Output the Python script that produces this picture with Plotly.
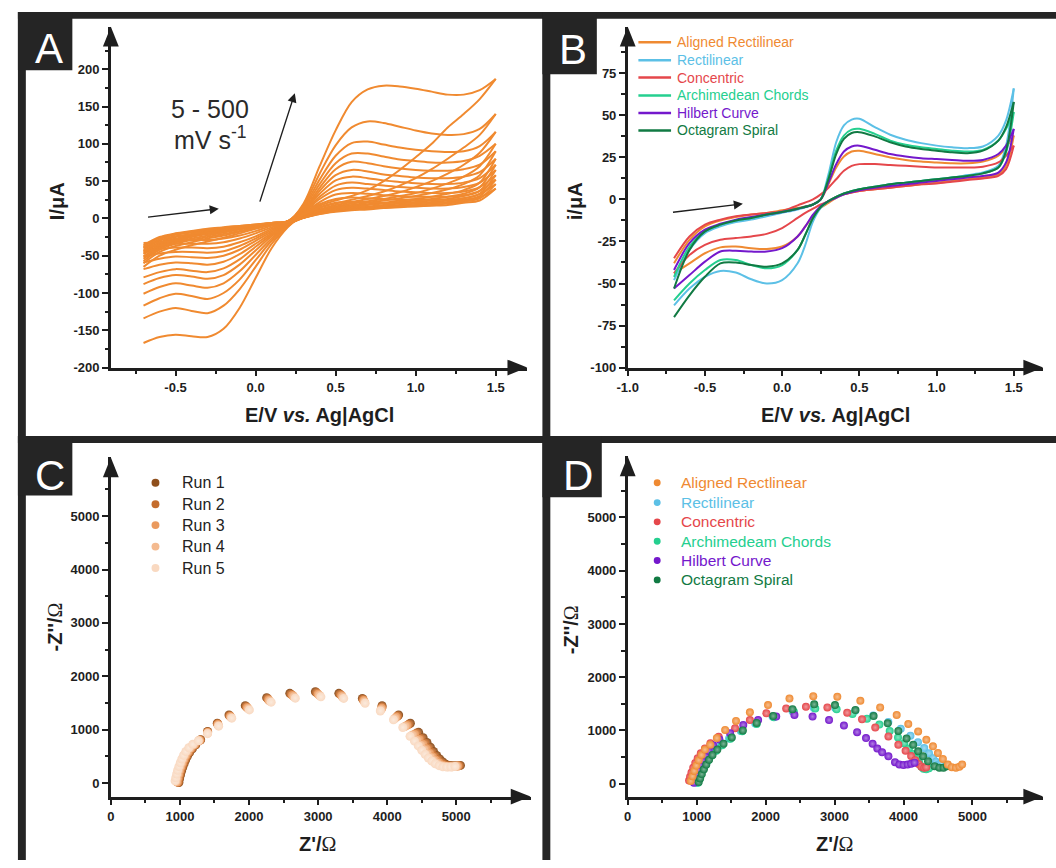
import plotly.graph_objects as go

W, H = 1056, 868
FONT = 'Liberation Sans, Arial, Helvetica, sans-serif'
INK = '#1e1e1e'
FRAME = '#252525'


def px(x):
    return x / W


def py(y):
    return 1 - y / H


# ---------------- panel A : CV, 5 - 500 mV/s ----------------
E_A_FWD = [-0.7, -0.6, -0.5, -0.4, -0.3, -0.2, -0.1, 0.0, 0.1, 0.2, 0.3, 0.4,
           0.5, 0.6, 0.7, 0.8, 0.9, 1.0, 1.1, 1.2, 1.3, 1.4, 1.5]
E_A_REV = E_A_FWD[::-1]

a01_fwd = [-65, -50, -42, -36, -31, -26, -20, -14, -9, -5, 20, 70, 118, 156, 173, 178, 177, 174, 170, 166, 166, 172, 187]
a01_rev = [187, 160, 140, 122, 100, 82, 65, 50, 38, 30, 24, 17, 6, -12, -40, -80, -120, -148, -159, -158, -156, -159, -167]
a02_fwd = [-60, -45, -37, -32, -27, -23, -18, -13, -8, -4, 18, 60, 98, 122, 130, 128, 123, 118, 114, 112, 113, 120, 140]
a02_rev = [140, 112, 95, 80, 66, 54, 44, 36, 30, 25, 20, 14, 4, -11, -34, -65, -95, -117, -127, -124, -120, -125, -134]
a03_fwd = [-57, -42, -34, -29, -25, -21, -17, -12, -8, -4, 16, 52, 84, 101, 103, 99, 95, 92, 90, 89, 90, 97, 116]
a03_rev = [116, 88, 72, 60, 50, 42, 35, 30, 26, 22, 18, 12, 3, -10, -30, -56, -82, -100, -108, -104, -101, -107, -117]
a04_fwd = [-54, -40, -32, -27, -23, -19, -15, -11, -7, -4, 14, 46, 74, 87, 87, 83, 79, 77, 75, 75, 77, 84, 100]
a04_rev = [100, 70, 56, 47, 40, 34, 30, 26, 23, 20, 16, 11, 2, -9, -27, -49, -71, -87, -93, -90, -87, -92, -101]
a05_fwd = [-51, -38, -30, -25, -21, -18, -14, -10, -7, -4, 12, 41, 66, 76, 74, 70, 67, 65, 64, 64, 66, 72, 90]
a05_rev = [90, 58, 46, 39, 34, 30, 27, 24, 21, 18, 15, 10, 2, -8, -24, -43, -62, -76, -81, -78, -76, -80, -88]
a06_fwd = [-48, -36, -28, -24, -20, -17, -13, -10, -7, -4, 11, 37, 58, 65, 63, 59, 57, 55, 54, 54, 56, 62, 80]
a06_rev = [80, 48, 38, 33, 29, 26, 24, 21, 19, 17, 14, 9, 1, -8, -22, -38, -55, -67, -72, -70, -68, -72, -79]
a07_fwd = [-46, -34, -27, -23, -19, -16, -13, -10, -7, -4, 10, 33, 51, 56, 54, 51, 49, 47, 46, 46, 48, 54, 72]
a07_rev = [72, 42, 33, 29, 26, 24, 22, 20, 18, 16, 13, 8, 1, -7, -20, -34, -48, -58, -62, -60, -59, -62, -68]
a08_fwd = [-44, -32, -25, -22, -18, -15, -12, -9, -7, -4, 9, 29, 44, 48, 46, 44, 42, 41, 40, 40, 42, 48, 65]
a08_rev = [65, 37, 30, 26, 24, 22, 20, 18, 16, 15, 12, 8, 1, -7, -18, -30, -42, -50, -53, -52, -51, -54, -59]
a09_fwd = [-42, -30, -24, -21, -17, -14, -12, -9, -6, -4, 8, 26, 38, 41, 40, 38, 36, 35, 34, 34, 36, 42, 58]
a09_rev = [58, 33, 27, 24, 22, 20, 18, 17, 15, 14, 11, 7, 1, -6, -16, -27, -37, -44, -46, -45, -45, -47, -51]
a10_fwd = [-40, -28, -22, -19, -16, -13, -11, -9, -6, -4, 7, 22, 32, 34, 33, 31, 30, 29, 29, 29, 31, 37, 52]
a10_rev = [52, 30, 25, 22, 20, 18, 17, 16, 14, 13, 10, 7, 1, -6, -14, -24, -32, -38, -40, -39, -39, -41, -44]
a11_fwd = [-38, -26, -21, -18, -15, -12, -10, -8, -6, -4, 6, 19, 26, 28, 27, 26, 25, 25, 25, 25, 27, 33, 46]
a11_rev = [46, 27, 23, 20, 18, 17, 16, 15, 13, 12, 10, 6, 1, -5, -12, -20, -27, -32, -34, -34, -34, -36, -38]
a12_fwd = [-36, -25, -20, -17, -14, -12, -10, -8, -6, -4, 5, 15, 21, 22, 22, 21, 21, 21, 21, 21, 23, 28, 40]
a12_rev = [40, 24, 21, 18, 17, 16, 15, 14, 12, 11, 9, 6, 1, -5, -10, -17, -23, -27, -29, -29, -30, -32, -33]

A_CURVES = [(a01_fwd, a01_rev), (a02_fwd, a02_rev), (a03_fwd, a03_rev), (a04_fwd, a04_rev),
            (a05_fwd, a05_rev), (a06_fwd, a06_rev), (a07_fwd, a07_rev), (a08_fwd, a08_rev),
            (a09_fwd, a09_rev), (a10_fwd, a10_rev), (a11_fwd, a11_rev), (a12_fwd, a12_rev)]

# ---------------- panel B : CV per geometry ----------------
E_B_FWD = [-0.7, -0.6, -0.5, -0.4, -0.3, -0.2, -0.1, 0.0, 0.1, 0.2, 0.25, 0.3, 0.35, 0.4,
           0.45, 0.5, 0.6, 0.7, 0.8, 0.9, 1.0, 1.1, 1.2, 1.3, 1.4, 1.45, 1.5]
E_B_REV = [1.5, 1.45, 1.4, 1.3, 1.2, 1.1, 1.0, 0.9, 0.8, 0.7, 0.6, 0.5, 0.4, 0.35, 0.3,
           0.25, 0.2, 0.15, 0.1, 0.0, -0.1, -0.2, -0.3, -0.4, -0.5, -0.6, -0.7]

B_NAMES = ['Aligned Rectilinear', 'Rectilinear', 'Concentric', 'Archimedean Chords',
           'Hilbert Curve', 'Octagram Spiral']
D_NAMES = ['Aligned Rectlinear', 'Rectilinear', 'Concentric', 'Archimedeam Chords',
           'Hilbert Curve', 'Octagram Spiral']
GEOM_COLORS = ['#ef8a32', '#5cc0e6', '#e5474b', '#25cf8f', '#7418cc', '#117a43']

b_aligned_fwd = [-38, -24, -16, -12.5, -10.5, -9, -8, -6.5, -5, -3, 0, 9, 19, 25.5, 28.5, 29, 27, 25, 23.5, 22.5, 22, 21.5, 21.5, 22.5, 26, 31, 38]
b_aligned_rev = [38, 20, 15, 13, 12, 11, 10, 9, 8, 7, 6, 5, 3, 1, -2, -5, -10, -16, -22, -28, -29.5, -29, -28, -28.5, -32, -38, -44]
b_rect_fwd = [-48, -30, -20, -16, -13.5, -12, -10, -8, -6, -3, 0, 15, 34, 44, 47.5, 48, 43, 38.5, 35.5, 33.5, 32, 31, 30.5, 31.5, 38, 47, 66]
b_rect_rev = [66, 32, 20, 16, 14.5, 13, 12, 11, 10, 9, 7.5, 6, 3.5, 1.5, -1, -5, -13, -27, -38, -48, -50, -47.5, -43.5, -42.5, -46, -53, -63]
b_conc_fwd = [-35, -22, -15, -12, -10, -9, -8, -7, -3.5, 0, 3, 7, 12, 17, 20, 21, 21, 20.5, 20, 19.5, 19, 19, 19, 19.5, 22, 26, 32]
b_conc_rev = [32, 18, 14, 12.5, 11.5, 10.5, 9.5, 9, 8, 7, 6, 5, 3, 1.5, -1, -3, -5.5, -8, -11, -17, -20.5, -22, -23, -24, -27, -33, -44]
b_arch_fwd = [-46, -28, -19, -15, -12.5, -11, -9, -7.5, -5.5, -3, 0, 13, 29, 38, 41.5, 42, 39, 35, 32.5, 31, 30, 29, 28.5, 29.5, 35, 42, 52]
b_arch_rev = [52, 28, 19, 15.5, 14, 13, 12, 11, 10, 9, 7.5, 6, 3.5, 1.5, -1, -4.5, -11, -21, -30, -39, -41, -39, -36, -36, -42, -50, -60]
b_hilb_fwd = [-42, -26, -18, -14.5, -12, -10.5, -9, -7.5, -5.5, -3, 0, 10, 21, 28.5, 31.5, 32, 29.5, 27, 25.5, 24.5, 24, 23.5, 23, 23.5, 27, 32, 42]
b_hilb_rev = [42, 22, 16, 14, 13, 12, 11, 10, 9, 8, 7, 5.5, 3, 1, -1, -4, -9, -16, -22, -29, -31, -31, -30.5, -31, -37, -45, -53]
b_octa_fwd = [-53, -30, -19, -15, -12.5, -11, -9, -7.5, -5.5, -3, 0, 12, 27, 36, 39.5, 40, 37.5, 34, 31.5, 30, 29, 28, 27.5, 29, 35, 43, 58]
b_octa_rev = [58, 29, 19, 15.5, 14, 13, 12, 11, 10, 9, 7.5, 6, 3.5, 1.5, -1, -4.5, -11, -21, -30, -38, -40, -39, -37.5, -38, -46, -57, -70]

B_CURVES = [(b_aligned_fwd, b_aligned_rev), (b_rect_fwd, b_rect_rev), (b_conc_fwd, b_conc_rev),
            (b_arch_fwd, b_arch_rev), (b_hilb_fwd, b_hilb_rev), (b_octa_fwd, b_octa_rev)]

# ---------------- panel C : Nyquist, repeat runs ----------------
RUN_NAMES = ['Run 1', 'Run 2', 'Run 3', 'Run 4', 'Run 5']
RUN_COLORS = ['#8f4f1c', '#c46c2c', '#ea9a5e', '#f4ba8f', '#f9d9c1']

run1_re = [985, 995, 1008, 1022, 1040, 1060, 1082, 1108, 1140, 1180, 1230, 1300, 1400, 1540, 1710, 1945, 2255, 2590, 2960, 3300, 3640, 3925, 4165, 4335, 4455, 4520, 4575, 4625, 4670, 4715, 4760, 4805, 4850, 4900, 4950, 5005, 5060]
run1_im = [10, 80, 150, 220, 290, 360, 430, 500, 570, 640, 715, 810, 965, 1120, 1275, 1450, 1600, 1680, 1710, 1680, 1585, 1450, 1275, 1120, 950, 850, 760, 670, 590, 515, 450, 395, 350, 330, 322, 322, 330]
run2_re = [975, 985, 998, 1012, 1030, 1050, 1072, 1098, 1130, 1170, 1222, 1295, 1400, 1545, 1720, 1960, 2270, 2610, 2980, 3320, 3650, 3925, 4150, 4310, 4425, 4490, 4545, 4595, 4640, 4685, 4730, 4775, 4825, 4875, 4925, 4980, 5040]
run2_im = [15, 85, 155, 225, 295, 365, 435, 505, 575, 645, 715, 805, 955, 1110, 1260, 1430, 1580, 1660, 1690, 1660, 1565, 1425, 1255, 1100, 935, 835, 745, 655, 575, 500, 440, 385, 345, 325, 318, 318, 325]
run3_re = [960, 970, 983, 997, 1015, 1035, 1057, 1083, 1115, 1155, 1210, 1285, 1400, 1550, 1730, 1975, 2285, 2630, 3000, 3340, 3660, 3920, 4130, 4285, 4395, 4460, 4515, 4565, 4610, 4655, 4700, 4750, 4800, 4850, 4900, 4960, 5020]
run3_im = [20, 90, 160, 230, 300, 370, 440, 510, 580, 650, 720, 800, 945, 1095, 1245, 1410, 1555, 1640, 1665, 1635, 1545, 1400, 1235, 1080, 915, 815, 725, 640, 560, 490, 430, 378, 338, 315, 310, 312, 320]
run4_re = [945, 955, 968, 982, 1000, 1020, 1042, 1068, 1100, 1142, 1198, 1275, 1400, 1555, 1740, 1990, 2300, 2650, 3020, 3355, 3670, 3910, 4110, 4255, 4360, 4425, 4480, 4530, 4578, 4625, 4672, 4722, 4775, 4828, 4880, 4940, 5000]
run4_im = [30, 95, 165, 235, 305, 375, 445, 515, 585, 655, 722, 795, 935, 1080, 1230, 1390, 1535, 1615, 1640, 1610, 1520, 1375, 1210, 1060, 895, 800, 710, 625, 548, 480, 420, 370, 330, 308, 303, 305, 315]
run5_re = [930, 940, 953, 967, 985, 1005, 1027, 1053, 1085, 1128, 1185, 1265, 1400, 1560, 1750, 2005, 2320, 2670, 3040, 3370, 3680, 3900, 4090, 4225, 4330, 4395, 4450, 4500, 4548, 4595, 4645, 4695, 4750, 4805, 4860, 4920, 4980]
run5_im = [40, 100, 170, 240, 310, 380, 450, 520, 590, 660, 725, 790, 925, 1065, 1215, 1370, 1515, 1590, 1615, 1585, 1495, 1350, 1185, 1040, 875, 785, 695, 612, 537, 470, 412, 362, 325, 303, 298, 300, 310]

RUNS = [(run1_re, run1_im), (run2_re, run2_im), (run3_re, run3_im), (run4_re, run4_im), (run5_re, run5_im)]

# ---------------- panel D : Nyquist per geometry ----------------
d_aligned_re = [915, 940, 965, 995, 1030, 1070, 1120, 1198, 1293, 1413, 1571, 1772, 2035, 2346, 2691, 3040, 3374, 3661, 3901, 4069, 4212, 4331, 4427, 4499, 4571, 4643, 4700, 4760, 4810, 4850]
d_aligned_im = [50, 140, 240, 340, 440, 540, 640, 731, 856, 1010, 1178, 1340, 1476, 1600, 1643, 1632, 1557, 1433, 1290, 1122, 981, 824, 701, 577, 465, 359, 310, 300, 320, 360]
d_rect_re = [1000, 1020, 1045, 1075, 1110, 1150, 1200, 1265, 1350, 1470, 1640, 1850, 2100, 2390, 2700, 3010, 3300, 3560, 3780, 3960, 4100, 4210, 4300, 4370, 4430, 4470, 4500, 4520, 4540, 4550]
d_rect_im = [20, 90, 170, 260, 350, 440, 530, 620, 720, 850, 990, 1130, 1260, 1360, 1420, 1420, 1370, 1280, 1160, 1030, 900, 780, 670, 570, 480, 410, 355, 330, 340, 385]
d_conc_re = [890, 905, 925, 950, 980, 1015, 1060, 1120, 1200, 1320, 1557, 1772, 2011, 2298, 2585, 2896, 3183, 3398, 3590, 3781, 3925, 4030, 4110, 4170, 4220, 4260, 4300, 4330]
d_conc_im = [60, 130, 210, 300, 390, 480, 570, 660, 760, 880, 1042, 1196, 1321, 1414, 1446, 1433, 1334, 1210, 1055, 888, 731, 620, 520, 440, 370, 320, 300, 310]
d_arch_re = [1020, 1040, 1065, 1095, 1130, 1170, 1220, 1285, 1370, 1490, 1660, 1870, 2120, 2410, 2720, 3030, 3260, 3470, 3650, 3800, 3920, 4010, 4080, 4140, 4190, 4230, 4260, 4290, 4330, 4370]
d_arch_im = [20, 90, 170, 260, 350, 440, 530, 620, 720, 845, 985, 1120, 1250, 1350, 1410, 1400, 1310, 1220, 1110, 990, 870, 760, 660, 560, 470, 390, 320, 280, 270, 290]
d_hilb_re = [960, 975, 995, 1020, 1050, 1085, 1125, 1175, 1240, 1330, 1485, 1676, 1891, 2154, 2418, 2681, 2920, 3136, 3327, 3456, 3552, 3620, 3690, 3781, 3877, 3940, 4000, 4060, 4110, 4160]
d_hilb_im = [20, 90, 170, 260, 350, 440, 530, 620, 720, 830, 949, 1103, 1196, 1260, 1290, 1260, 1196, 1092, 968, 856, 750, 660, 590, 515, 404, 360, 350, 360, 375, 395]
d_octa_re = [1030, 1050, 1075, 1105, 1140, 1180, 1230, 1300, 1390, 1510, 1670, 1870, 2110, 2390, 2705, 3006, 3303, 3566, 3771, 3925, 4044, 4140, 4212, 4284, 4356, 4451, 4520, 4580, 4630]
d_octa_im = [30, 100, 180, 270, 360, 450, 540, 640, 750, 870, 1000, 1140, 1270, 1400, 1490, 1476, 1383, 1271, 1135, 992, 850, 731, 608, 515, 422, 329, 300, 300, 330]

D_SERIES = [(d_aligned_re, d_aligned_im), (d_rect_re, d_rect_im), (d_conc_re, d_conc_im),
            (d_arch_re, d_arch_im), (d_hilb_re, d_hilb_im), (d_octa_re, d_octa_im)]


def lighten(hex_color, f):
    h = hex_color.lstrip('#')
    r, g, b = int(h[0:2], 16), int(h[2:4], 16), int(h[4:6], 16)
    r, g, b = [int(c + (255 - c) * f) for c in (r, g, b)]
    return f'#{r:02x}{g:02x}{b:02x}'


fig = go.Figure()

# A
for fwd, rev in A_CURVES:
    for xs, ys in ((E_A_FWD, fwd), (E_A_REV, rev)):
        fig.add_trace(go.Scatter(x=xs, y=ys, mode='lines', xaxis='x', yaxis='y',
                                 line=dict(color='#f08a30', width=2, shape='spline', smoothing=0.9),
                                 hoverinfo='skip'))

# B
for (fwd, rev), col in zip(B_CURVES, GEOM_COLORS):
    for xs, ys in ((E_B_FWD, fwd), (E_B_REV, rev)):
        fig.add_trace(go.Scatter(x=xs, y=ys, mode='lines', xaxis='x2', yaxis='y2',
                                 line=dict(color=col, width=2, shape='spline', smoothing=0.9),
                                 hoverinfo='skip'))

# C (paler runs drawn over the darker ones)
for (zr, zi), col in zip(RUNS, RUN_COLORS):
    fig.add_trace(go.Scatter(x=zr, y=zi, mode='markers', xaxis='x3', yaxis='y3',
                             marker=dict(size=9, color=col, line=dict(width=0),
                                         gradient=dict(type='radial', color=lighten(col, 0.45))),
                             hoverinfo='skip'))

# D
d_order = [1, 3, 2, 4, 5, 0]
for i in d_order:
    zr, zi = D_SERIES[i]
    col = GEOM_COLORS[i]
    fig.add_trace(go.Scatter(x=zr, y=zi, mode='markers', xaxis='x4', yaxis='y4',
                             marker=dict(size=8, color=col, line=dict(width=0),
                                         gradient=dict(type='radial', color=lighten(col, 0.45))),
                             hoverinfo='skip'))


def axis(domain, rng, tickvals, ticktext, minor_vals, anchor):
    return dict(domain=domain, range=rng, anchor=anchor,
                tickmode='array', tickvals=tickvals, ticktext=ticktext,
                minor=dict(tickmode='array', tickvals=minor_vals, ticks='outside',
                           ticklen=3.5, tickwidth=1.6, tickcolor=INK),
                showline=True, linecolor=INK, linewidth=2.5,
                ticks='outside', ticklen=6, tickwidth=2, tickcolor=INK,
                showgrid=False, zeroline=False, fixedrange=True,
                tickfont=dict(family=FONT, size=13, color=INK, weight='bold'))


EV_TICKS = [-0.5, 0.0, 0.5, 1.0, 1.5]
EV_TEXT = ['-0.5', '0.0', '0.5', '1.0', '1.5']
Z_TICKS = [0, 1000, 2000, 3000, 4000, 5000]
Z_TEXT = [str(v) for v in Z_TICKS]
Z_MINOR = [500, 1500, 2500, 3500, 4500, 5500]

fig.update_layout(
    xaxis=axis([px(100.9), px(521.7)], [-0.904, 1.697], EV_TICKS, EV_TEXT,
               [-0.75, -0.25, 0.25, 0.75, 1.25], 'y'),
    yaxis=axis([py(371), py(27)], [-200, 257], list(range(-200, 201, 50)),
               [str(v) for v in range(-200, 201, 50)], list(range(-175, 226, 50)), 'x'),
    xaxis2=axis([px(623.2), px(1043)], [-1.0, 1.69], [-1.0] + EV_TICKS, ['-1.0'] + EV_TEXT,
                [-0.75, -0.25, 0.25, 0.75, 1.25], 'y2'),
    yaxis2=axis([py(371), py(27)], [-100, 102.7], list(range(-100, 76, 25)),
                [str(v) for v in range(-100, 76, 25)],
                [-87.5, -62.5, -37.5, -12.5, 12.5, 37.5, 62.5, 87.5], 'x2'),
    xaxis3=axis([px(100.9), px(525)], [0, 6074], Z_TICKS, Z_TEXT, Z_MINOR, 'y3'),
    yaxis3=axis([py(804), py(461.7)], [-254, 6100], Z_TICKS, Z_TEXT, Z_MINOR, 'x3'),
    xaxis4=axis([px(623.2), px(1043)], [0, 6025], Z_TICKS, Z_TEXT, Z_MINOR, 'y4'),
    yaxis4=axis([py(804), py(460.7)], [-242, 6146], Z_TICKS, Z_TEXT, Z_MINOR, 'x4'),
)

shapes = []


def rect(x0, y0, x1, y1):
    shapes.append(dict(type='rect', xref='paper', yref='paper', x0=px(x0), x1=px(x1),
                       y0=py(y1), y1=py(y0), fillcolor=FRAME, line=dict(width=0), layer='above'))


# dark frame and label tabs
rect(7, 12, 1056, 19)
rect(7, 12, 15, 868)
rect(537, 12, 545, 868)
rect(7, 440, 1056, 447)
rect(7, 12, 62, 71)
rect(537, 12, 592, 75)
rect(7, 440, 62, 500)
rect(537, 440, 597, 502)


def tri(points):
    d = 'M ' + ' L '.join(f'{px(x):.5f},{py(y):.5f}' for x, y in points) + ' Z'
    shapes.append(dict(type='path', xref='paper', yref='paper', path=d,
                       fillcolor=INK, line=dict(width=0), layer='above'))


# axis arrowheads
for xa, ya, xtip, ytip in [(100.9, 371, 521.7, 27), (623.2, 371, 1043, 27),
                           (100.9, 804, 525, 461.7), (623.2, 804, 1043, 460.7)]:
    tri([(xtip, ya), (xtip - 20, ya - 8), (xtip - 20, ya + 8)])
    tri([(xa, ytip), (xa - 8, ytip + 20), (xa + 8, ytip + 20)])

# legend B: line keys
B_LEG_Y = [42.7, 60.7, 78.3, 96.3, 114, 131.7]
for yy, col in zip(B_LEG_Y, GEOM_COLORS):
    shapes.append(dict(type='line', xref='paper', yref='paper', x0=px(634), x1=px(667),
                       y0=py(yy), y1=py(yy), line=dict(color=col, width=2.5)))

# legend C / D: ball keys
C_LEG_Y = [487.3, 509, 530, 551.7, 573.3]
for yy, col in zip(C_LEG_Y, RUN_COLORS):
    shapes.append(dict(type='circle', xref='paper', yref='paper', x0=px(142), x1=px(150),
                       y0=py(yy + 4), y1=py(yy - 4), fillcolor=col, line=dict(width=0)))
D_LEG_Y = [487.3, 507.3, 526.7, 546.3, 565.7, 585.3]
for yy, col in zip(D_LEG_Y, GEOM_COLORS):
    shapes.append(dict(type='circle', xref='paper', yref='paper', x0=px(649.5), x1=px(656.5),
                       y0=py(yy + 3.5), y1=py(yy - 3.5), fillcolor=col, line=dict(width=0)))

ann = []


def text(x, y, s, size, color=INK, anchor='center', angle=0):
    ann.append(dict(x=px(x), y=py(y), xref='paper', yref='paper', text=s, showarrow=False,
                    xanchor=anchor, yanchor='middle', textangle=angle,
                    font=dict(family=FONT, size=size, color=color)))


for letter, cx, cy in [('A', 38.6, 49), ('B', 568, 50), ('C', 39.6, 480), ('D', 572.8, 480)]:
    text(cx, cy, letter, 42, color='white')

OHM = "<span style=\"font-family:'Liberation Serif',serif;font-weight:normal\">Ω</span>"
text(46.5, 203, '<b>I/μA</b>', 20, angle=-90)
text(311.6, 419, '<b>E/V <i>vs.</i> Ag|AgCl</b>', 20)
text(570, 203, '<b>i/μA</b>', 20, angle=-90)
text(833.5, 419, '<b>E/V <i>vs.</i> Ag|AgCl</b>', 20)
text(44.8, 633, "<b>-Z''/</b>" + OHM, 20, angle=-90)
text(310, 851.7, "<b>Z'/</b>" + OHM, 20)
text(566, 636, "<b>-Z''/</b>" + OHM, 20, angle=-90)
text(831.8, 851.7, "<b>Z'/</b>" + OHM, 20)

text(201.4, 110, '5 - 500', 25, color='#2a2a2a')
text(201.4, 139, 'mV s<sup>-1</sup>', 25, color='#2a2a2a')

for yy, name, col in zip(B_LEG_Y, B_NAMES, GEOM_COLORS):
    text(670.8, yy, name, 14, color=col, anchor='left')
for yy, name in zip(C_LEG_Y, RUN_NAMES):
    text(170.5, yy, name, 16, color='#222222', anchor='left')
for yy, name, col in zip(D_LEG_Y, D_NAMES, GEOM_COLORS):
    text(675, yy, name, 15.5, color=col, anchor='left')

# guide arrows
for (tx, ty), (hx, hy) in [((137.7, 219.3), (210, 210.7)), ((251.4, 204), (286.8, 94)),
                           ((668.2, 214.3), (739.6, 205.7))]:
    ann.append(dict(x=px(hx), y=py(hy), xref='paper', yref='paper', ax=tx - hx, ay=ty - hy,
                    axref='pixel', ayref='pixel', text='', showarrow=True, arrowhead=2,
                    arrowsize=1.3, arrowwidth=1.4, arrowcolor=INK))

fig.update_layout(width=W, height=H, margin=dict(l=0, r=0, t=0, b=0),
                  paper_bgcolor='white', plot_bgcolor='rgba(0,0,0,0)', showlegend=False,
                  font=dict(family=FONT, color=INK), shapes=shapes, annotations=ann)

# page body margin would push the 1056x868 figure off the viewport
fig.write_html('out.html', config={'displayModeBar': False},
               post_script="document.body.style.margin='0';document.body.style.overflow='hidden';")
